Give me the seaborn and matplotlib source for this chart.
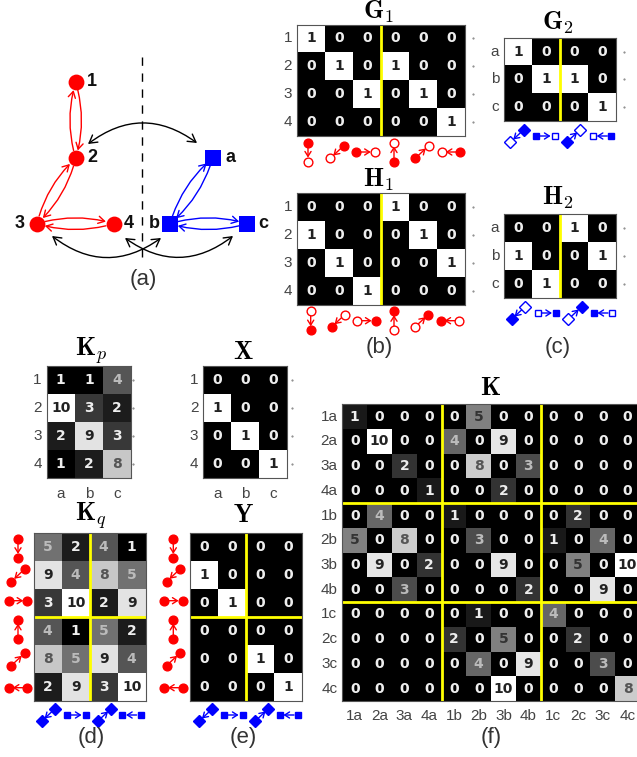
import numpy as np
import pandas as pd
import matplotlib
matplotlib.use("Agg")
import matplotlib.pyplot as plt
from matplotlib.patches import FancyArrowPatch
import seaborn as sns

sns.set_theme(style="white")
plt.rcParams["font.family"] = ["Liberation Sans", "DejaVu Sans"]
plt.rcParams["mathtext.fontset"] = "cm"

W, H = 637, 757

rows_num = ["1", "2", "3", "4"]
rows_abc = ["a", "b", "c"]
rows_k = ["1a", "2a", "3a", "4a", "1b", "2b", "3b", "4b", "1c", "2c", "3c", "4c"]

G1 = [[1, 0, 0, 0, 0, 0], [0, 1, 0, 1, 0, 0], [0, 0, 1, 0, 1, 0], [0, 0, 0, 0, 0, 1]]
G2 = [[1, 0, 0, 0], [0, 1, 1, 0], [0, 0, 0, 1]]
H1 = [[0, 0, 0, 1, 0, 0], [1, 0, 0, 0, 1, 0], [0, 1, 0, 0, 0, 1], [0, 0, 1, 0, 0, 0]]
H2 = [[0, 0, 1, 0], [1, 0, 0, 1], [0, 1, 0, 0]]
Kp = [[1, 1, 4], [10, 3, 2], [2, 9, 3], [1, 2, 8]]
X = [[0, 0, 0], [1, 0, 0], [0, 1, 0], [0, 0, 1]]
Kq = [[5, 2, 4, 1], [9, 4, 8, 5], [3, 10, 2, 9], [4, 1, 5, 2], [8, 5, 9, 4], [2, 9, 3, 10]]
Y = [[0, 0, 0, 0], [1, 0, 0, 0], [0, 1, 0, 0], [0, 0, 0, 0], [0, 0, 1, 0], [0, 0, 0, 1]]
K = [
    [1, 0, 0, 0, 0, 5, 0, 0, 0, 0, 0, 0],
    [0, 10, 0, 0, 4, 0, 9, 0, 0, 0, 0, 0],
    [0, 0, 2, 0, 0, 8, 0, 3, 0, 0, 0, 0],
    [0, 0, 0, 1, 0, 0, 2, 0, 0, 0, 0, 0],
    [0, 4, 0, 0, 1, 0, 0, 0, 0, 2, 0, 0],
    [5, 0, 8, 0, 0, 3, 0, 0, 1, 0, 4, 0],
    [0, 9, 0, 2, 0, 0, 9, 0, 0, 5, 0, 10],
    [0, 0, 3, 0, 0, 0, 0, 2, 0, 0, 9, 0],
    [0, 0, 0, 0, 0, 1, 0, 0, 4, 0, 0, 0],
    [0, 0, 0, 0, 2, 0, 5, 0, 0, 2, 0, 0],
    [0, 0, 0, 0, 0, 4, 0, 9, 0, 0, 3, 0],
    [0, 0, 0, 0, 0, 0, 10, 0, 0, 0, 0, 8],
]

# graph in panel (a), positions in picture pixels
red_nodes = {"1": (75.7, 82.3), "2": (75.7, 158.3), "3": (37, 223.7), "4": (113.7, 223.7)}
blue_nodes = {"a": (212.7, 158), "b": (170, 223.7), "c": (247, 223.7)}
red_edges = [("1", "2"), ("2", "1"), ("2", "3"), ("3", "2"), ("3", "4"), ("4", "3")]
blue_edges = [("a", "b"), ("b", "a"), ("b", "c"), ("c", "b")]
node_labels = {"1": (92, 82), "2": (92.5, 157), "3": (20, 224), "4": (129, 224),
               "a": (231, 157), "b": (154, 224), "c": (263, 224)}
cross_edges = [((88, 144), (197, 143), -0.37), ((52, 236), (161, 238), 0.37), ((125, 238), (233, 236), 0.37)]

fig = plt.figure(figsize=(W / 100, H / 100), dpi=100)


def text_colour(g):
    if g < 0.25:
        return "#eeeeee"
    if g < 0.47:
        return "#bbbbbb"
    if g < 0.6:
        return "#333333"
    if g < 0.85:
        return "#555555"
    return "#222222"


def matrix(values, rect, ylabels, xlabels, vmin, vmax, vlines=(), hlines=(), dot=8):
    left, top, right, bottom = rect
    ax = fig.add_axes([left / W, 1 - bottom / H, (right - left) / W, (bottom - top) / H])
    df = pd.DataFrame(values)
    sns.heatmap(df, ax=ax, cmap="gray", vmin=vmin, vmax=vmax, cbar=False, annot=True, fmt="d",
                annot_kws={"fontsize": 10, "fontweight": "bold", "family": "DejaVu Sans"},
                xticklabels=xlabels if xlabels else False,
                yticklabels=ylabels if ylabels else False)
    flat = np.array(values, dtype=float).ravel()
    for t, v in zip(ax.texts, flat):
        t.set_color(text_colour((v - vmin) / (vmax - vmin)))
    ax.tick_params(length=0, labelsize=11, labelcolor="#444444", labelrotation=0)
    ax.tick_params(axis="x", pad=6)
    ax.tick_params(axis="y", pad=3.5)
    for x in vlines:
        ax.axvline(x, color="#ffff00", lw=2)
    for y in hlines:
        ax.axhline(y, color="#ffff00", lw=2)
    for s in ax.spines.values():
        s.set_visible(True)
        s.set_color("#555555")
        s.set_linewidth(0.8)
    # leftover tick dots right of the matrix
    if dot is not None:
        nrow = len(values)
        ys = np.arange(nrow) + 0.5
        ax.plot([1 + dot / (right - left)] * nrow, ys, ls="", marker=".", ms=1, color="#777777",
                transform=ax.get_yaxis_transform(), clip_on=False)
    return ax


matrix(G1, (297, 24.5, 465, 136), rows_num, None, 0, 1, vlines=[3])
matrix(G2, (504, 37.7, 616, 121), rows_abc, None, 0, 1, vlines=[2])
matrix(H1, (297, 193.3, 465, 305.3), rows_num, None, 0, 1, vlines=[3])
matrix(H2, (504, 214.3, 616, 298.3), rows_abc, None, 0, 1, vlines=[2])
matrix(Kp, (46.7, 366, 131, 478.3), rows_num, rows_abc, 1, 10, dot=2)
matrix(X, (203.3, 366, 287.3, 478.3), rows_num, rows_abc, 0, 1, dot=5)
matrix(Kq, (33.7, 532.7, 145.7, 701), None, None, 1, 10, vlines=[2], hlines=[3], dot=None)
matrix(Y, (190.3, 532.7, 302.3, 701), None, None, 0, 1, vlines=[2], hlines=[3], dot=None)
matrix(K, (342.3, 404.3, 640, 701), rows_k, rows_k, 0, 10, vlines=[4, 8], hlines=[4, 8], dot=None)

# overlay in picture pixels for graph, icons and captions
ov = fig.add_axes([0, 0, 1, 1], zorder=5)
ov.set_xlim(0, W)
ov.set_ylim(H, 0)
ov.axis("off")
ov.patch.set_alpha(0)

ov.plot([142.3, 142.3], [57, 261], color="black", lw=1, dashes=(6, 5.5))


def arrow(p, q, colour, rad=0.0, style="->,head_length=4.5,head_width=2.6", shrink=0, lw=1.0):
    ov.add_patch(FancyArrowPatch(p, q, arrowstyle=style, connectionstyle=f"arc3,rad={rad}",
                                 color=colour, lw=lw, shrinkA=shrink, shrinkB=shrink, zorder=2))


for nodes, edges, colour in [(red_nodes, red_edges, "#ff0000"), (blue_nodes, blue_edges, "#0000ff")]:
    for a, b in edges:
        arrow(nodes[a], nodes[b], colour, rad=-0.15, shrink=5.8)

sns.scatterplot(x=[p[0] for p in red_nodes.values()], y=[p[1] for p in red_nodes.values()], ax=ov,
                color="#ff0000", marker="o", s=130, linewidth=0, zorder=3, legend=False)
sns.scatterplot(x=[p[0] for p in blue_nodes.values()], y=[p[1] for p in blue_nodes.values()], ax=ov,
                color="#0000ff", marker="s", s=130, linewidth=0, zorder=3, legend=False)
for name, (x, y) in node_labels.items():
    ov.text(x, y, name, fontsize=13, fontweight="bold", ha="center", va="center", color="#111111")
for p, q, rad in cross_edges:
    arrow(p, q, "black", rad=rad, style="<->,head_length=5.5,head_width=3.2", lw=1.0)

# direction of each icon, in pixels from its centre
OFFSETS = {"down": ((0, -9.5), (0, 9.5)), "sw": ((6.6, -6.2), (-6.6, 6.2)), "right": ((-9.2, 0), (9.2, 0)),
           "up": ((0, 9.5), (0, -9.5)), "ne": ((-6.6, 6.2), (6.6, -6.2)), "left": ((9.2, 0), (-9.2, 0))}


def icon(cx, cy, kind, colour, src_fill, dst_fill, blue=False):
    (ax_, ay_), (bx_, by_) = OFFSETS[kind]
    p = (cx + ax_, cy + ay_)
    q = (cx + bx_, cy + by_)
    diag = kind in ("sw", "ne")
    marker = ("D" if diag else "s") if blue else "o"
    ms = (6 if diag else 5) if blue else 6.3
    arrow(p, q, colour, style="->,head_length=3.5,head_width=2.2", shrink=2.8, lw=1.0)
    for pt, fill in ((p, src_fill), (q, dst_fill)):
        ov.plot(pt[0], pt[1], marker=marker, ms=ms, mec=colour, mfc=colour if fill else "white",
                mew=1.0, ls="", zorder=3)


red_kinds = ["down", "sw", "right", "up", "ne", "left"]
blue_kinds = ["sw", "right", "ne", "left"]

for cx, k in zip([308, 337, 365.5, 394, 422, 451], red_kinds):
    icon(cx, 152, k, "#ff0000", True, False)
for cx, k in zip([310.7, 338.3, 366.3, 394, 421.7, 449.7], red_kinds):
    icon(cx, 320.7, k, "#ff0000", False, True)
for cx, k in zip([517, 545.3, 573.3, 602], blue_kinds):
    icon(cx, 136, k, "#0000ff", True, False, blue=True)
for cx, k in zip([518.3, 546.7, 575, 602.7], blue_kinds):
    icon(cx, 313, k, "#0000ff", False, True, blue=True)
for cx in [18, 173.3]:
    for cy, k in zip([548.3, 575.3, 600.7, 629.3, 659.3, 687.7], red_kinds):
        icon(cx, cy, k, "#ff0000", True, True)
for xs in ([48.3, 76.3, 104.3, 131.3], [205.7, 233.3, 261.7, 288.7]):
    for cx, k in zip(xs, blue_kinds):
        icon(cx, 715, k, "#0000ff", True, True, blue=True)

titles = [(r"$\mathbf{G}_1$", 378, 18.5), (r"$\mathbf{G}_2$", 558, 29.3), (r"$\mathbf{H}_1$", 378, 186.7),
          (r"$\mathbf{H}_2$", 558, 204.3), (r"$\mathbf{K}_p$", 91, 355.7), (r"$\mathbf{X}$", 243, 359.3),
          (r"$\mathbf{K}_q$", 91, 520.7), (r"$\mathbf{Y}$", 243, 521.7), (r"$\mathbf{K}$", 491, 395)]
for s, x, y in titles:
    ov.text(x, y, s, fontsize=18.5, ha="center", va="baseline", color="black")

captions = [("(a)", 143.5, 279), ("(b)", 379, 348), ("(c)", 558, 348), ("(d)", 91, 738), ("(e)", 243, 738), ("(f)", 491, 738)]
for s, x, y in captions:
    ov.text(x, y, s, fontsize=16, ha="center", va="center", color="#333333")

fig.savefig("out.png", dpi=100)
